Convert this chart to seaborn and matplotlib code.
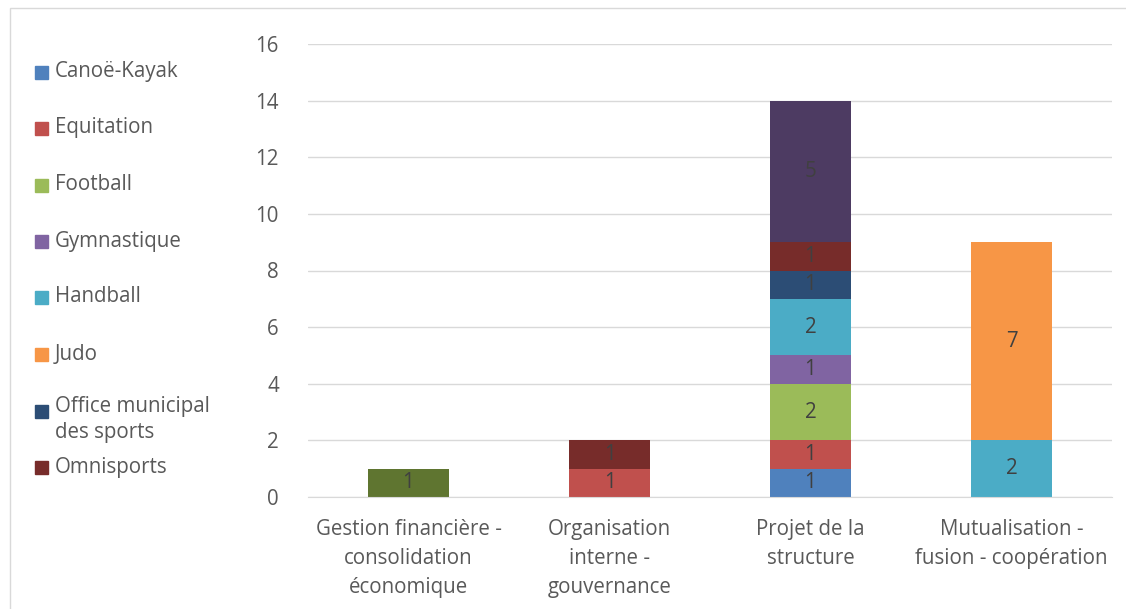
import numpy as np
import matplotlib.pyplot as plt
import seaborn as sns
from matplotlib.patches import Rectangle

categories = ["Gestion financière -\nconsolidation\néconomique",
              "Organisation\ninterne -\ngouvernance",
              "Projet de la\nstructure",
              "Mutualisation -\nfusion - coopération"]

series_names = ["Canoë-Kayak", "Equitation", "Football", "Gymnastique", "Handball",
                "Judo", "Office municipal\ndes sports", "Omnisports", "Série 9", "Série 10"]
canoe = [0, 0, 1, 0]
equitation = [0, 1, 1, 0]
football = [0, 0, 2, 0]
gymnastique = [0, 0, 1, 0]
handball = [0, 0, 2, 2]
judo = [0, 0, 0, 7]
oms = [0, 0, 1, 0]
omnisports = [0, 1, 1, 0]
serie9 = [1, 0, 0, 0]
serie10 = [0, 0, 5, 0]
series_values = [canoe, equitation, football, gymnastique, handball,
                 judo, oms, omnisports, serie9, serie10]
colors = ["#4F81BD", "#C0504D", "#9BBB59", "#8064A2", "#4BACC6",
          "#F79646", "#2C4D75", "#772C2A", "#5F7530", "#4D3B62"]
yticks = [0, 2, 4, 6, 8, 10, 12, 14, 16]

sns.set_style("white")
plt.rcParams['font.family'] = ['Open Sans', 'DejaVu Sans']
txt = "#595959"
fs = 14.8

fig = plt.figure(figsize=(11.26, 6.09), dpi=100)
ax = fig.add_axes([308/1126, 1-497/609, (1112-308)/1126, (497-44)/609])

bottom = np.zeros(len(categories))
for name, vals, c in zip(series_names, series_values, colors):
    vals = np.array(vals, dtype=float)
    sns.barplot(x=categories, y=vals, bottom=bottom, color=c, width=0.4,
                saturation=1, linewidth=0, ax=ax, zorder=3)
    cont = ax.containers[-1]
    ax.bar_label(cont, labels=[str(int(v)) if v > 0 else "" for v in vals],
                 label_type="center", color="#404040", fontsize=fs)
    bottom += vals

ax.set_ylim(0, 16)
ax.set_yticks(yticks)
ax.set_xlim(-0.5, 3.5)
ax.grid(axis="y", color="#D9D9D9", linewidth=1, zorder=0)
for s in ["top", "right", "left"]:
    ax.spines[s].set_visible(False)
ax.spines["bottom"].set_color("#D9D9D9")
ax.spines["bottom"].set_zorder(4)
ax.tick_params(axis="both", length=0, labelsize=fs, colors=txt)
ax.tick_params(axis="x", pad=16)
ax.tick_params(axis="y", pad=21)
for t in ax.get_xticklabels():
    t.set_linespacing(1.5)

# legend (first 8 series only, as in the original)
leg_y = [72, 128, 185, 241, 297, 354, 411, 467]
for i, y in enumerate(leg_y):
    fig.patches.append(Rectangle((35/1126, 1-(y+7)/609), 13/1126, 13/609,
                                 transform=fig.transFigure, color=colors[i]))
    multi = "\n" in series_names[i]
    fig.text(55/1126, 1-(y-15)/609 if multi else 1-y/609, series_names[i],
             fontsize=fs, color=txt, va="top" if multi else "center",
             linespacing=1.3)

# chart outer border
fig.patches.append(Rectangle((10/1126, -0.05), 1.2, 1-8/609+0.05, transform=fig.transFigure,
                             fill=False, edgecolor="#D9D9D9", linewidth=1))

fig.savefig("out.png", dpi=100)
